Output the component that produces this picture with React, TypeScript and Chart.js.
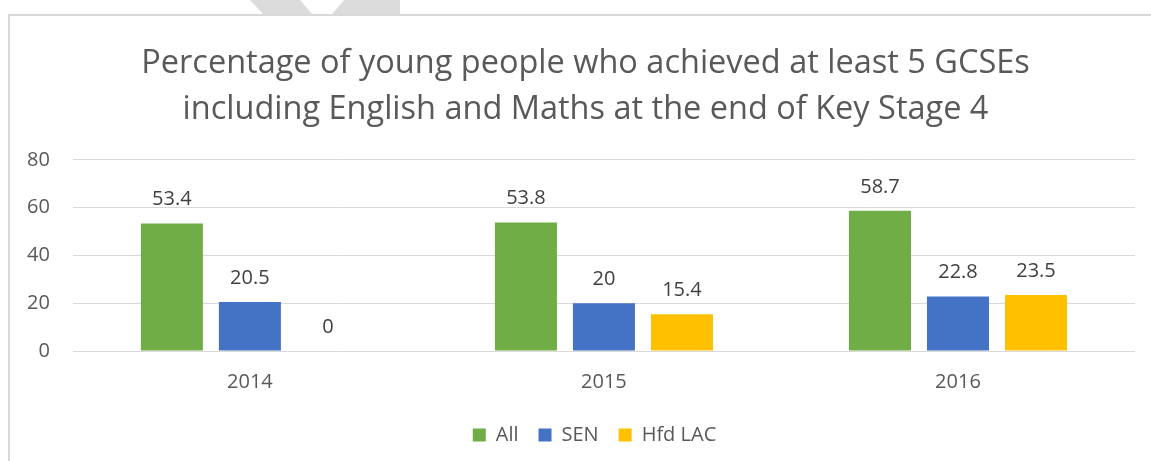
import React, { useEffect, useRef } from "react";
import { Chart, registerables } from "chart.js";

Chart.register(...registerables);

const categories = ["2014", "2015", "2016"];
const allValues = [53.4, 53.8, 58.7];
const senValues = [20.5, 20, 22.8];
const lacValues = [0, 15.4, 23.5];
const seriesNames = ["All", "SEN", "Hfd LAC"];
const seriesColors = ["#70AD47", "#4472C4", "#FFC000"];
const titleLines = [
  "Percentage of young people who achieved at least 5 GCSEs",
  "including English and Maths at the end of Key Stage 4",
];

const FONT = "'Open Sans', 'Liberation Sans', sans-serif";

const valueLabels = {
  id: "valueLabels",
  afterDatasetsDraw(chart: any) {
    const ctx = chart.ctx;
    ctx.save();
    ctx.font = `20px ${FONT}`;
    ctx.fillStyle = "#404040";
    ctx.textAlign = "center";
    ctx.textBaseline = "middle";
    chart.data.datasets.forEach((ds: any, i: number) => {
      const meta = chart.getDatasetMeta(i);
      meta.data.forEach((bar: any, j: number) => {
        const v = ds.data[j];
        ctx.fillText(String(v), bar.x, bar.y - 24);
      });
    });
    ctx.restore();
  },
};

const boxShift = {
  id: "boxShift",
  afterLayout(chart: any) {
    if (chart.legend) {
      chart.legend.left += 25;
      chart.legend.right += 25;
    }
    if (chart.titleBlock) {
      chart.titleBlock.left += 16;
      chart.titleBlock.right += 16;
    }
  },
};

export default function App() {
  const ref = useRef<HTMLCanvasElement>(null);
  useEffect(() => {
    if (!ref.current) return;
    const data = [allValues, senValues, lacValues];
    const chart = new Chart(ref.current, {
      type: "bar",
      data: {
        labels: categories,
        datasets: seriesNames.map((n, i) => ({
          label: n,
          data: data[i],
          backgroundColor: seriesColors[i],
          categoryPercentage: 0.661,
          barPercentage: 0.795,
        })),
      },
      options: {
        animation: false,
        responsive: false,
        maintainAspectRatio: false,
        layout: { padding: { left: 4, right: 16, top: 40, bottom: 6 } },
        plugins: {
          title: {
            display: true,
            text: titleLines,
            color: "#595959",
            font: { family: FONT, size: 32.5, weight: "normal", lineHeight: 1.43 },
            padding: { top: 0, bottom: 27 },
          },
          legend: {
            position: "bottom",
            labels: {
              boxWidth: 13,
              boxHeight: 13,
              color: "#595959",
              font: { family: FONT, size: 20 },
              padding: 20,
            },
          },
          tooltip: { enabled: false },
        },
        scales: {
          x: {
            grid: { display: false },
            border: { display: false },
            ticks: { color: "#595959", font: { family: FONT, size: 20 }, padding: 11 },
          },
          y: {
            min: 0,
            max: 80,
            ticks: { stepSize: 20, color: "#595959", font: { family: FONT, size: 20 }, padding: 23 },
            grid: { color: "#D9D9D9", lineWidth: 1, drawTicks: false },
            border: { display: false },
          },
        },
      },
      plugins: [valueLabels, boxShift],
    });
    return () => chart.destroy();
  }, []);
  return (
    <div style={{ position: "fixed", left: 0, top: 0, width: 1151, height: 461, background: "#fff" }}>
      <div
        style={{
          position: "absolute",
          left: 250,
          top: 0,
          width: 150,
          height: 14,
          background: "#DCDCDC",
          clipPath: "polygon(0 0, 50px 0, 62px 14px, 82px 14px, 94px 0, 150px 0, 150px 14px, 13px 14px)",
        }}
      />
      <div
        style={{
          position: "absolute",
          left: 8,
          top: 14,
          width: 1160,
          height: 460,
          borderLeft: "2px solid #D9D9D9",
          borderTop: "2px solid #D9D9D9",
        }}
      />
      <canvas ref={ref} width={1151} height={461} style={{ position: "absolute", left: 0, top: 0 }} />
    </div>
  );
}
